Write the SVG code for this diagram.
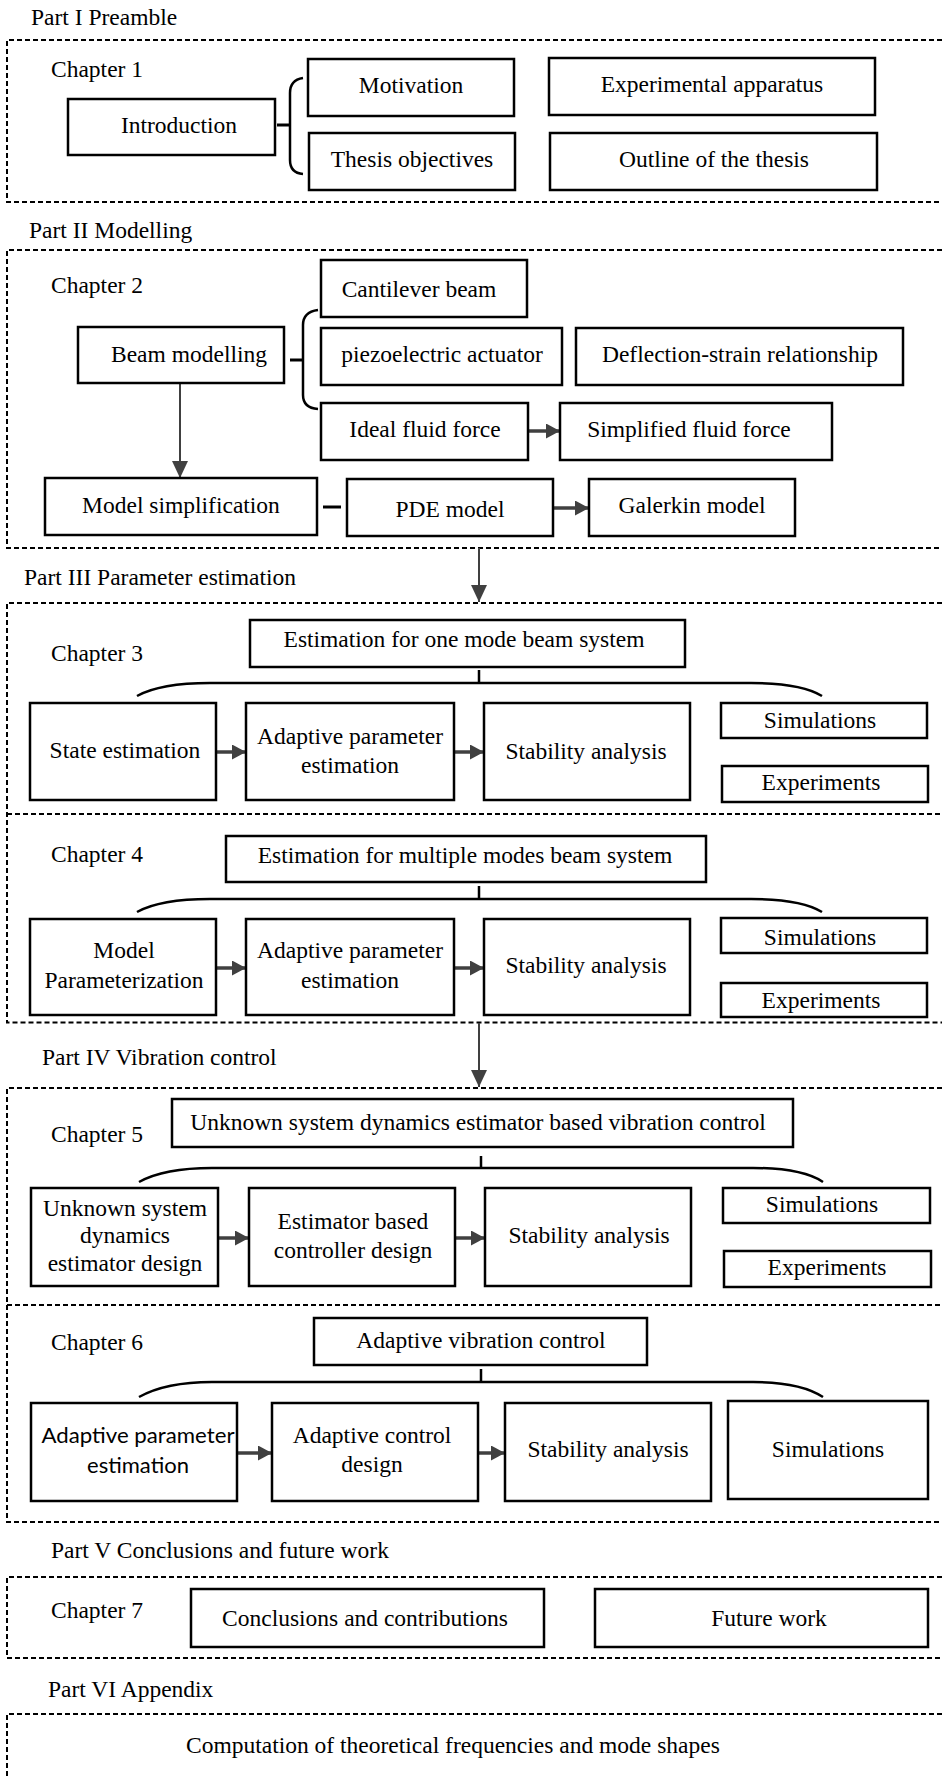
<svg xmlns="http://www.w3.org/2000/svg" width="942" height="1776" viewBox="0 0 942 1776">
<defs>
<style>
.bg{fill:#fff}
.frame{fill:none;stroke:#000;stroke-width:2;stroke-dasharray:5 3}
.box{fill:#fff;stroke:#000;stroke-width:2.5}
.t{font-family:'Liberation Serif','Times New Roman','DejaVu Serif',serif;font-size:23.5px;fill:#000}
.c{text-anchor:middle}
.s{font-family:Lato,'Liberation Sans',sans-serif;font-size:22px;fill:#000;text-anchor:middle}
.arr{stroke:#404040;stroke-width:3.5;fill:none}
.varr{stroke:#404040;stroke-width:2;fill:none}
.br{stroke:#000;stroke-width:2.5;fill:none}
.dash{stroke:#000;stroke-width:3;fill:none}
</style>
<marker id="ah" viewBox="0 0 14 15" markerWidth="14" markerHeight="15" refX="14" refY="7.5" orient="auto" markerUnits="userSpaceOnUse"><path d="M0,0 L14,7.5 L0,15 z" fill="#404040"/></marker>
<marker id="av" viewBox="0 0 17 16" markerWidth="17" markerHeight="16" refX="17" refY="8" orient="auto" markerUnits="userSpaceOnUse"><path d="M0,0 L17,8 L0,16 z" fill="#404040"/></marker>
</defs>
<rect class="bg" x="0" y="0" width="942" height="1776"/>

<g id="frames">
<path class="frame" d="M950,40 H7 V202 H950"/>
<path class="frame" d="M950,250 H7 V548 H950"/>
<path class="frame" d="M950,603 H7 V1022.5 H950 M7,814 H950"/>
<path class="frame" d="M950,1088 H7 V1522 H950 M7,1305 H950"/>
<path class="frame" d="M950,1577 H7 V1658 H950"/>
<path class="frame" d="M950,1714 H7 V1790"/>
</g>

<g id="labels" font-family="Liberation Serif, serif">
<text class="t" x="31" y="25">Part I Preamble</text>
<text class="t" x="51" y="77">Chapter 1</text>
<text class="t" x="29" y="238">Part II Modelling</text>
<text class="t" x="51" y="293">Chapter 2</text>
<text class="t" x="24" y="585">Part III Parameter estimation</text>
<text class="t" x="51" y="661">Chapter 3</text>
<text class="t" x="51" y="862">Chapter 4</text>
<text class="t" x="42" y="1065">Part IV Vibration control</text>
<text class="t" x="51" y="1142">Chapter 5</text>
<text class="t" x="51" y="1350">Chapter 6</text>
<text class="t" x="51" y="1558">Part V Conclusions and future work</text>
<text class="t" x="51" y="1618">Chapter 7</text>
<text class="t" x="48" y="1697">Part VI Appendix</text>
</g>

<g id="connectors">
<path class="dash" d="M277,125 H290"/>
<path class="br" d="M303,78 Q290,80 290,93 V160 Q290,173 303,174"/>
<path class="dash" d="M290,360 H303"/>
<path class="br" d="M318,310 Q303,312 303,325 V395 Q303,408 318,409"/>
<path class="dash" d="M323,507 H341"/>
<path class="arr" d="M528,431 H560" marker-end="url(#ah)"/>
<path class="arr" d="M553,508 H589" marker-end="url(#ah)"/>
<path class="varr" d="M180,383 V478" marker-end="url(#av)"/>
<path class="varr" d="M479,548 V602" marker-end="url(#av)"/>
<path class="varr" d="M479,1023 V1087" marker-end="url(#av)"/>
<path class="br" d="M479,670 V683 M137,696 C155,686 180,683 210,683 H751 C781,683 806,686 822,696"/>
<path class="br" d="M479,886 V899 M137,912 C155,902 180,899 210,899 H751 C781,899 806,902 822,912"/>
<path class="br" d="M481,1156 V1168 M139,1182 C157,1172 182,1168 212,1168 H753 C783,1168 808,1172 823,1182"/>
<path class="br" d="M481,1369 V1382 M139,1397 C157,1387 182,1382 212,1382 H753 C783,1382 808,1387 823,1397"/>
<path class="arr" d="M216,752 H246" marker-end="url(#ah)"/>
<path class="arr" d="M454,752 H484" marker-end="url(#ah)"/>
<path class="arr" d="M216,968 H246" marker-end="url(#ah)"/>
<path class="arr" d="M454,968 H484" marker-end="url(#ah)"/>
<path class="arr" d="M218,1238 H249" marker-end="url(#ah)"/>
<path class="arr" d="M455,1238 H485" marker-end="url(#ah)"/>
<path class="arr" d="M237,1453 H272" marker-end="url(#ah)"/>
<path class="arr" d="M478,1453 H505" marker-end="url(#ah)"/>
</g>

<g id="n-intro"><rect class="box" x="68" y="99" width="207" height="56"/><text class="t c" x="179" y="133">Introduction</text></g>
<g id="n-motivation"><rect class="box" x="308" y="59" width="206" height="57"/><text class="t c" x="411" y="93">Motivation</text></g>
<g id="n-objectives"><rect class="box" x="309" y="133" width="206" height="57"/><text class="t c" x="412" y="167">Thesis objectives</text></g>
<g id="n-apparatus"><rect class="box" x="549" y="58" width="326" height="57"/><text class="t c" x="712" y="92">Experimental apparatus</text></g>
<g id="n-outline"><rect class="box" x="550" y="133" width="327" height="57"/><text class="t c" x="714" y="167">Outline of the thesis</text></g>

<g id="n-cantilever"><rect class="box" x="321" y="260" width="206" height="57"/><text class="t c" x="419" y="297">Cantilever beam</text></g>
<g id="n-beam"><rect class="box" x="78" y="327" width="206" height="56"/><text class="t c" x="189" y="362">Beam modelling</text></g>
<g id="n-piezo"><rect class="box" x="321" y="328" width="241" height="57"/><text class="t c" x="442" y="362">piezoelectric actuator</text></g>
<g id="n-deflection"><rect class="box" x="576" y="328" width="327" height="57"/><text class="t c" x="740" y="362">Deflection-strain relationship</text></g>
<g id="n-ideal"><rect class="box" x="321" y="403" width="207" height="57"/><text class="t c" x="425" y="437">Ideal fluid force</text></g>
<g id="n-simplified"><rect class="box" x="560" y="403" width="272" height="57"/><text class="t c" x="689" y="437">Simplified fluid force</text></g>
<g id="n-modelsimp"><rect class="box" x="45" y="478" width="272" height="57"/><text class="t c" x="181" y="513">Model simplification</text></g>
<g id="n-pde"><rect class="box" x="347" y="479" width="206" height="57"/><text class="t c" x="450" y="517">PDE model</text></g>
<g id="n-galerkin"><rect class="box" x="589" y="479" width="206" height="57"/><text class="t c" x="692" y="513">Galerkin model</text></g>

<g id="n-est1"><rect class="box" x="250" y="620" width="435" height="47"/><text class="t c" x="464" y="647">Estimation for one mode beam system</text></g>
<g id="n-state3"><rect class="box" x="30" y="703" width="186" height="97"/><text class="t c" x="125" y="758">State estimation</text></g>
<g id="n-adapt3"><rect class="box" x="246" y="703" width="208" height="97"/><text class="t c" x="350" y="744">Adaptive parameter</text><text class="t c" x="350" y="773">estimation</text></g>
<g id="n-stab3"><rect class="box" x="484" y="703" width="206" height="97"/><text class="t c" x="586" y="759">Stability analysis</text></g>
<g id="n-sim3"><rect class="box" x="721" y="703" width="206" height="35"/><text class="t c" x="820" y="728">Simulations</text></g>
<g id="n-exp3"><rect class="box" x="722" y="766" width="206" height="36"/><text class="t c" x="821" y="790">Experiments</text></g>

<g id="n-est2"><rect class="box" x="226" y="836" width="480" height="46"/><text class="t c" x="465" y="863">Estimation for multiple modes beam system</text></g>
<g id="n-param4"><rect class="box" x="30" y="919" width="186" height="96"/><text class="t c" x="124" y="958">Model</text><text class="t c" x="124" y="988">Parameterization</text></g>
<g id="n-adapt4"><rect class="box" x="246" y="919" width="208" height="96"/><text class="t c" x="350" y="958">Adaptive parameter</text><text class="t c" x="350" y="988">estimation</text></g>
<g id="n-stab4"><rect class="box" x="484" y="919" width="206" height="96"/><text class="t c" x="586" y="973">Stability analysis</text></g>
<g id="n-sim4"><rect class="box" x="721" y="918" width="206" height="35"/><text class="t c" x="820" y="945">Simulations</text></g>
<g id="n-exp4"><rect class="box" x="721" y="983" width="206" height="34"/><text class="t c" x="821" y="1008">Experiments</text></g>

<g id="n-usde"><rect class="box" x="172" y="1099" width="621" height="48"/><text class="t c" x="478" y="1130">Unknown system dynamics estimator based vibration control</text></g>
<g id="n-usdedesign"><rect class="box" x="31" y="1188" width="187" height="98"/><text class="t c" x="125" y="1216">Unknown system</text><text class="t c" x="125" y="1243">dynamics</text><text class="t c" x="125" y="1271">estimator design</text></g>
<g id="n-estctrl"><rect class="box" x="249" y="1188" width="206" height="98"/><text class="t c" x="353" y="1229">Estimator based</text><text class="t c" x="353" y="1258">controller design</text></g>
<g id="n-stab5"><rect class="box" x="485" y="1188" width="206" height="98"/><text class="t c" x="589" y="1243">Stability analysis</text></g>
<g id="n-sim5"><rect class="box" x="723" y="1188" width="207" height="35"/><text class="t c" x="822" y="1212">Simulations</text></g>
<g id="n-exp5"><rect class="box" x="724" y="1251" width="207" height="36"/><text class="t c" x="827" y="1275">Experiments</text></g>

<g id="n-avc"><rect class="box" x="314" y="1318" width="333" height="47"/><text class="t c" x="481" y="1348">Adaptive vibration control</text></g>
<g id="n-ape6"><rect class="box" x="31" y="1403" width="206" height="98"/><text class="s" x="138" y="1443" textLength="193" lengthAdjust="spacingAndGlyphs">Adaptive parameter</text><text class="s" x="138" y="1473">estimation</text></g>
<g id="n-acd"><rect class="box" x="272" y="1403" width="206" height="98"/><text class="t c" x="372" y="1443">Adaptive control</text><text class="t c" x="372" y="1472">design</text></g>
<g id="n-stab6"><rect class="box" x="505" y="1403" width="206" height="98"/><text class="t c" x="608" y="1457">Stability analysis</text></g>
<g id="n-sim6"><rect class="box" x="728" y="1401" width="200" height="98"/><text class="t c" x="828" y="1457">Simulations</text></g>

<g id="n-concl"><rect class="box" x="191" y="1589" width="353" height="58"/><text class="t c" x="365" y="1626">Conclusions and contributions</text></g>
<g id="n-future"><rect class="box" x="595" y="1589" width="333" height="58"/><text class="t c" x="769" y="1626">Future work</text></g>

<g id="n-appendix"><text class="t" x="186" y="1753">Computation of theoretical frequencies and mode shapes</text></g>
</svg>
